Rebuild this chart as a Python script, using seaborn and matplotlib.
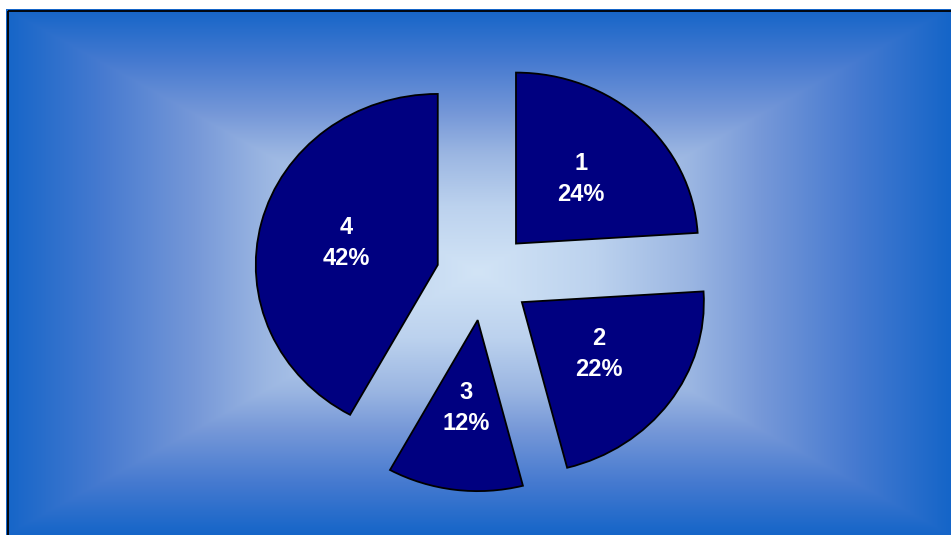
import numpy as np
import matplotlib
matplotlib.use("Agg")
import matplotlib.pyplot as plt
import seaborn as sns

# Segment names and their shares (percent)
categories = ["1", "2", "3", "4"]
shares = [24, 22, 12, 42]

sns.set_theme(style="white")
plt.rcParams["font.family"] = ["Liberation Sans", "DejaVu Sans"]

W, H = 951, 535
fig = plt.figure(figsize=(W / 100, H / 100), dpi=100, facecolor="white")

# --- backdrop: rectangular "from centre" gradient panel -------------------
ax_bg = fig.add_axes([0, 0, 1, 1])
ax_bg.set_axis_off()
xs = np.arange(W) + 0.5
ys = np.arange(H) + 0.5
X, Y = np.meshgrid(xs, ys)
gx0, gy0, hw, hh = 478.0, 272.0, 472.0, 263.0
t = np.clip(np.maximum(np.abs(X - gx0) / hw, np.abs(Y - gy0) / hh), 0, 1)
stops = [0.0, 0.25, 0.45, 0.6, 0.8, 1.0]
rgb_stops = np.array([
    (210, 228, 246),
    (188, 210, 238),
    (155, 182, 226),
    (118, 152, 216),
    (70, 122, 208),
    (21, 101, 200),
]) / 255.0
img = np.stack([np.interp(t, stops, rgb_stops[:, k]) for k in range(3)], axis=-1)
outside = (X < 6) | (Y < 9)
img[outside] = 1.0
ax_bg.imshow(img, extent=(0, W, H, 0), interpolation="nearest", aspect="auto")
ax_bg.plot([8, W], [11, 11], color="black", lw=1.3, solid_capstyle="butt")
ax_bg.plot([8, 8], [11, H], color="black", lw=1.3, solid_capstyle="butt")
ax_bg.set_xlim(0, W)
ax_bg.set_ylim(H, 0)

# --- exploded pie ----------------------------------------------------------
ax = fig.add_axes([0, 0, 1, 1])
ax.patch.set_alpha(0)
labels = [f"{c}\n{s}%" for c, s in zip(categories, shares)]
navy = sns.color_palette(["#000080"])[0]
ax.pie(
    shares,
    labels=labels,
    colors=[navy] * len(shares),
    startangle=90,
    counterclock=False,
    explode=[0.26] * len(shares),
    labeldistance=0.52,
    radius=1.0,
    wedgeprops=dict(edgecolor="black", linewidth=1.3),
    textprops=dict(color="white", fontsize=17, fontweight="bold",
                   ha="center", va="center", linespacing=1.45),
)
# slightly wider than tall, as drawn in the slide
ax.set_aspect("auto")
cx, cy = 483.6, 276.0   # pie centre in pixels (from top-left)
sx, sy = 182.0, 171.0   # pixels per unit radius horizontally / vertically
ax.set_xlim(-cx / sx, (W - cx) / sx)
ax.set_ylim(-(H - cy) / sy, cy / sy)
ax.set_axis_off()

fig.savefig("out.png", dpi=100, facecolor="white")
